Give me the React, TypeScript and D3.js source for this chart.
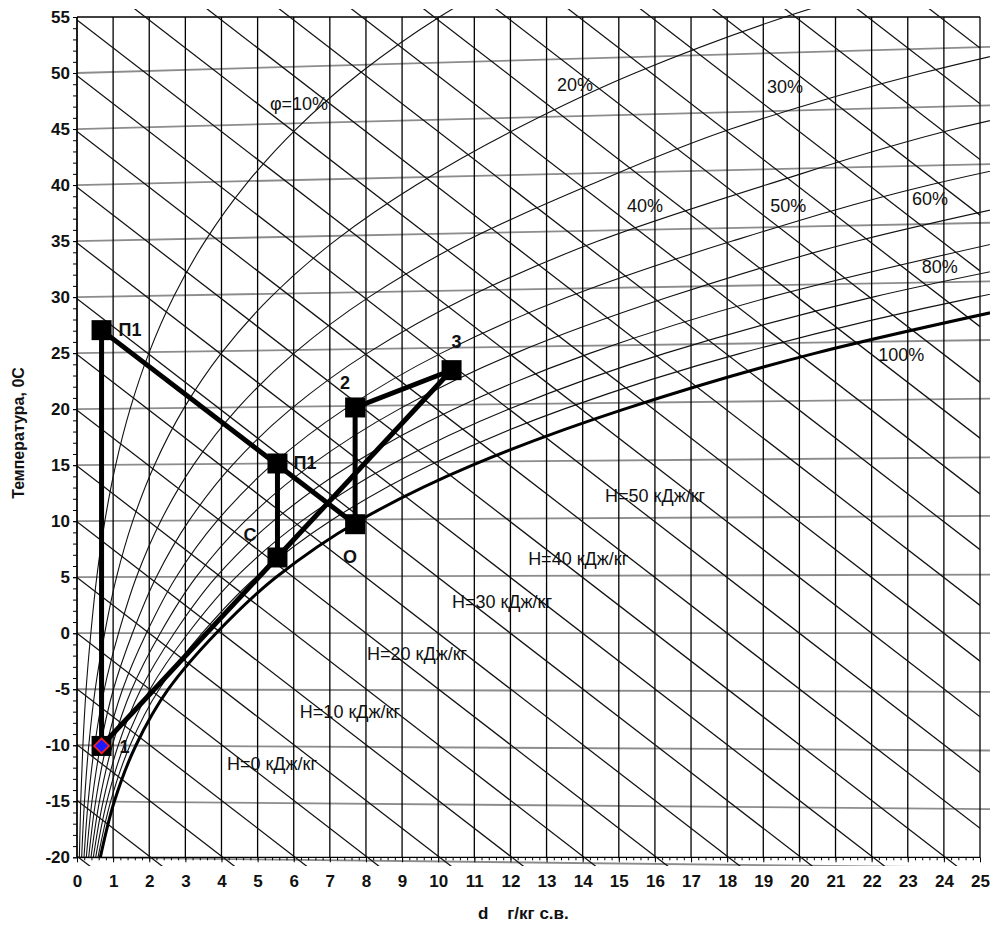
import React, { useEffect, useRef } from "react";
import * as d3 from "d3";

const FONT = "'Liberation Sans', Arial, sans-serif";

// moisture content d, g/kg dry air (horizontal) and temperature, °C (vertical)
const D_MAX = 25;
const T_MIN = -20;
const T_MAX = 55;

const TEMPS = [-20, -15, -10, -5, 0, 5, 10, 15, 20, 25, 30, 35, 40, 45, 50, 55, 60];

// relative humidity curves: d (g/kg) at each of TEMPS
const RH_10 = [0.065, 0.103, 0.163, 0.252, 0.383, 0.547, 0.77, 1.07, 1.469, 1.991, 2.671, 3.545, 4.66, 6.067, 7.835, 10.033, 12.75];
const RH_20 = [0.129, 0.207, 0.326, 0.504, 0.766, 1.094, 1.542, 2.143, 2.944, 3.995, 5.365, 7.131, 9.39, 12.15, 15.45, 19.6, 24.8];
const RH_30 = [0.194, 0.31, 0.489, 0.756, 1.15, 1.643, 2.316, 3.221, 4.427, 6.013, 8.082, 10.759, 14.193, 18.1, 23.4, 30.2];
const RH_40 = [0.258, 0.414, 0.652, 1.009, 1.535, 2.193, 3.092, 4.301, 5.916, 8.043, 10.823, 14.428, 19.068, 24.3, 31.6];
const RH_50 = [0.323, 0.517, 0.815, 1.262, 1.92, 2.743, 3.87, 5.386, 7.413, 10.086, 13.589, 18.14, 23.6, 31.0];
const RH_60 = [0.387, 0.621, 0.979, 1.515, 2.305, 3.295, 4.65, 6.475, 8.917, 12.142, 16.378, 21.6, 28.5];
const RH_70 = [0.452, 0.724, 1.142, 1.768, 2.691, 3.847, 5.431, 7.567, 10.428, 14.212, 19.192, 25.696];
const RH_80 = [0.517, 0.828, 1.306, 2.021, 3.077, 4.401, 6.215, 8.663, 11.946, 16.296, 22.031, 29.54];
const RH_90 = [0.581, 0.932, 1.469, 2.275, 3.464, 4.955, 7.001, 9.763, 13.472, 18.393, 24.895, 33.4];
const RH_100 = [0.646, 1.035, 1.633, 2.528, 3.851, 5.51, 7.788, 10.95, 15.15, 20.45, 27.3];

const RH_CURVES = [RH_10, RH_20, RH_30, RH_40, RH_50, RH_60, RH_70, RH_80, RH_90];

const HUMIDITY_LABELS = ["φ=10%", "20%", "30%", "40%", "50%", "60%", "80%", "100%"];
const HUMIDITY_LABEL_D = [5.34, 13.29, 19.1, 15.23, 19.19, 23.12, 23.39, 22.18];
const HUMIDITY_LABEL_T = [46.7, 48.4, 48.22, 37.6, 37.6, 38.22, 32.15, 24.3];

// isotherms, drawn slightly fanned out to the right
const ISOTHERMS = [-20, -15, -10, -5, 0, 5, 10, 15, 20, 25, 30, 35, 40, 45, 50];
const ISO_TILT = 0.00185;

// enthalpy lines, kJ/kg
const ENTHALPIES = [-20, -15, -10, -5, 0, 5, 10, 15, 20, 25, 30, 35, 40, 45, 50, 55, 60, 65, 70, 75, 80, 85, 90, 95, 100, 105, 110, 115];
const ENTHALPY_LABELS = [0, 10, 20, 30, 40, 50];
const ENTHALPY_LABEL_D = [4.15, 6.17, 8.03, 10.38, 12.49, 14.62];
const ENTHALPY_LABEL_T = [-12.21, -7.57, -2.39, 2.25, 6.09, 11.71];

// process points
const POINT_NAMES = ["П1", "П1", "С", "О", "2", "3", "1"];
const POINT_D = [0.68, 5.55, 5.55, 7.7, 7.7, 10.37, 0.68];
const POINT_T = [27.05, 15.15, 6.76, 9.73, 20.15, 23.48, -10.06];
const SEGMENTS = [[0, 6], [0, 3], [1, 2], [6, 5], [3, 4], [4, 5]];
const LABEL_DX = [17, 16, -34, -12, -15, 0, 18];
const LABEL_DY = [6, 6, -16, 39, -18, -22, 7];

const X_TICKS = d3.range(0, 26);
const Y_TICKS = d3.range(-20, 56, 5);

export default function App() {
  const xAxisRef = useRef<SVGGElement>(null);
  const xMinorRef = useRef<SVGGElement>(null);
  const yAxisRef = useRef<SVGGElement>(null);
  const yMinorRef = useRef<SVGGElement>(null);

  const x = d3.scaleLinear().domain([0, D_MAX]).range([77, 980]);
  const y = d3.scaleLinear().domain([T_MIN, T_MAX]).range([857.3, 17]);

  useEffect(() => {
    const styleAxis = (g: any) => {
      g.select(".domain").remove();
      g.attr("font-family", FONT).attr("font-size", 17).attr("font-weight", "bold");
      g.selectAll("line").attr("stroke", "#000");
      g.selectAll("text").attr("fill", "#111");
    };
    const plain = (v: any) => `${v}`;
    d3.select(xAxisRef.current)
      .call(d3.axisBottom(x).tickValues(X_TICKS).tickSize(5).tickPadding(13).tickFormat(plain) as any)
      .call(styleAxis);
    d3.select(xMinorRef.current)
      .call(d3.axisBottom(x).tickValues(d3.range(0, 125).map((i) => i / 5)).tickSize(3).tickFormat(() => "") as any)
      .call(styleAxis);
    d3.select(yAxisRef.current)
      .call(d3.axisLeft(y).tickValues(Y_TICKS).tickSize(4).tickPadding(3).tickFormat(plain) as any)
      .call(styleAxis);
    d3.select(yMinorRef.current)
      .call(d3.axisLeft(y).tickValues(d3.range(-20, 56)).tickSize(4).tickFormat(() => "") as any)
      .call(styleAxis);
  }, []);

  const curve = d3
    .line<[number, number]>()
    .x((p) => x(p[0]))
    .y((p) => y(p[1]))
    .curve(d3.curveMonotoneY);
  const toPoints = (ds: number[]) => ds.map((d, i) => [d, TEMPS[i]] as [number, number]);

  const isoLine = (t: number) => {
    const d1 = 25.3;
    return { x1: x(0), y1: y(t), x2: x(d1), y2: y(t * (1 + ISO_TILT * d1)) };
  };
  const hLine = (h: number) => {
    const d1 = 40;
    return { x1: x(0), y1: y(h / 1.005), x2: x(d1), y2: y((h - 2.5 * d1) / 1.005) };
  };

  const px = POINT_D.map((d) => x(d));
  const py = POINT_T.map((t) => y(t));

  return (
    <svg width={995} height={929} style={{ position: "absolute", left: 0, top: 0, background: "#fff" }}>
      <defs>
        <clipPath id="clipH">
          <rect x={77} y={9} width={903} height={857} />
        </clipPath>
        <clipPath id="clipWide">
          <rect x={77} y={9} width={913} height={857} />
        </clipPath>
        <clipPath id="clipIso">
          <rect x={77} y={17} width={913} height={849} />
        </clipPath>
      </defs>

      {/* isotherms */}
      <g clipPath="url(#clipIso)">
        {ISOTHERMS.map((t) => {
          const l = isoLine(t);
          return <line key={t} {...l} stroke="#8c8c8c" strokeWidth={1.8} />;
        })}
      </g>

      {/* vertical grid */}
      {X_TICKS.map((d) => (
        <line key={d} x1={x(d)} x2={x(d)} y1={17} y2={857.3} stroke="#000" strokeWidth={1.3} />
      ))}
      <line x1={77} x2={980} y1={17} y2={17} stroke="#000" strokeWidth={1.3} />
      <line x1={77} x2={980} y1={857.3} y2={857.3} stroke="#000" strokeWidth={1.3} />

      {/* enthalpy lines */}
      <g clipPath="url(#clipH)">
        {ENTHALPIES.map((h) => {
          const l = hLine(h);
          return <line key={h} {...l} stroke="#111" strokeWidth={1.25} />;
        })}
      </g>

      {/* relative humidity */}
      <g clipPath="url(#clipWide)" fill="none">
        {RH_CURVES.map((ds, i) => (
          <path key={i} d={curve(toPoints(ds)) || ""} stroke="#111" strokeWidth={1.1} />
        ))}
        <path d={curve(toPoints(RH_100)) || ""} stroke="#000" strokeWidth={3} />
      </g>

      {/* labels of curves */}
      <g fontFamily={FONT} fontSize={18} fill="#111">
        {HUMIDITY_LABELS.map((s, i) => (
          <text key={s} x={x(HUMIDITY_LABEL_D[i])} y={y(HUMIDITY_LABEL_T[i])}>
            {s}
          </text>
        ))}
        {ENTHALPY_LABELS.map((v, i) => (
          <text key={v} x={x(ENTHALPY_LABEL_D[i])} y={y(ENTHALPY_LABEL_T[i])}>
            {`H=${v} кДж/кг`}
          </text>
        ))}
      </g>

      {/* process */}
      <g stroke="#000" strokeWidth={5} strokeLinecap="square">
        {SEGMENTS.map(([a, b], i) => (
          <line key={i} x1={px[a]} y1={py[a]} x2={px[b]} y2={py[b]} />
        ))}
      </g>
      {POINT_NAMES.map((n, i) => (
        <rect key={i} x={px[i] - 10} y={py[i] - 10} width={20} height={20} fill="#000" />
      ))}
      <path
        d={`M${px[6]},${py[6] - 7.5}L${px[6] + 7.5},${py[6]}L${px[6]},${py[6] + 7.5}L${px[6] - 7.5},${py[6]}Z`}
        fill="#1a1aff"
        stroke="#ff2020"
        strokeWidth={1.6}
      />
      <g fontFamily={FONT} fontSize={18} fontWeight="bold" fill="#111">
        {POINT_NAMES.map((n, i) => (
          <text key={i} x={px[i] + LABEL_DX[i]} y={py[i] + LABEL_DY[i]}>
            {n}
          </text>
        ))}
      </g>

      {/* axes */}
      <line x1={77} x2={77} y1={17} y2={857.3} stroke="#000" strokeWidth={1.3} />
      <g ref={xMinorRef} transform="translate(0,857.3)" />
      <g ref={xAxisRef} transform="translate(0,857.3)" />
      <g ref={yMinorRef} transform="translate(77,0)" />
      <g ref={yAxisRef} transform="translate(77,0)" />

      <text
        transform="translate(24,433) rotate(-90)"
        textAnchor="middle"
        fontFamily={FONT}
        fontSize={16}
        fontWeight="bold"
        fill="#111"
      >
        Температура, 0С
      </text>
      <text x={478} y={919} fontFamily={FONT} fontSize={17} fontWeight="bold" fill="#111" xmlSpace="preserve">
        {"d    г/кг с.в."}
      </text>
    </svg>
  );
}
